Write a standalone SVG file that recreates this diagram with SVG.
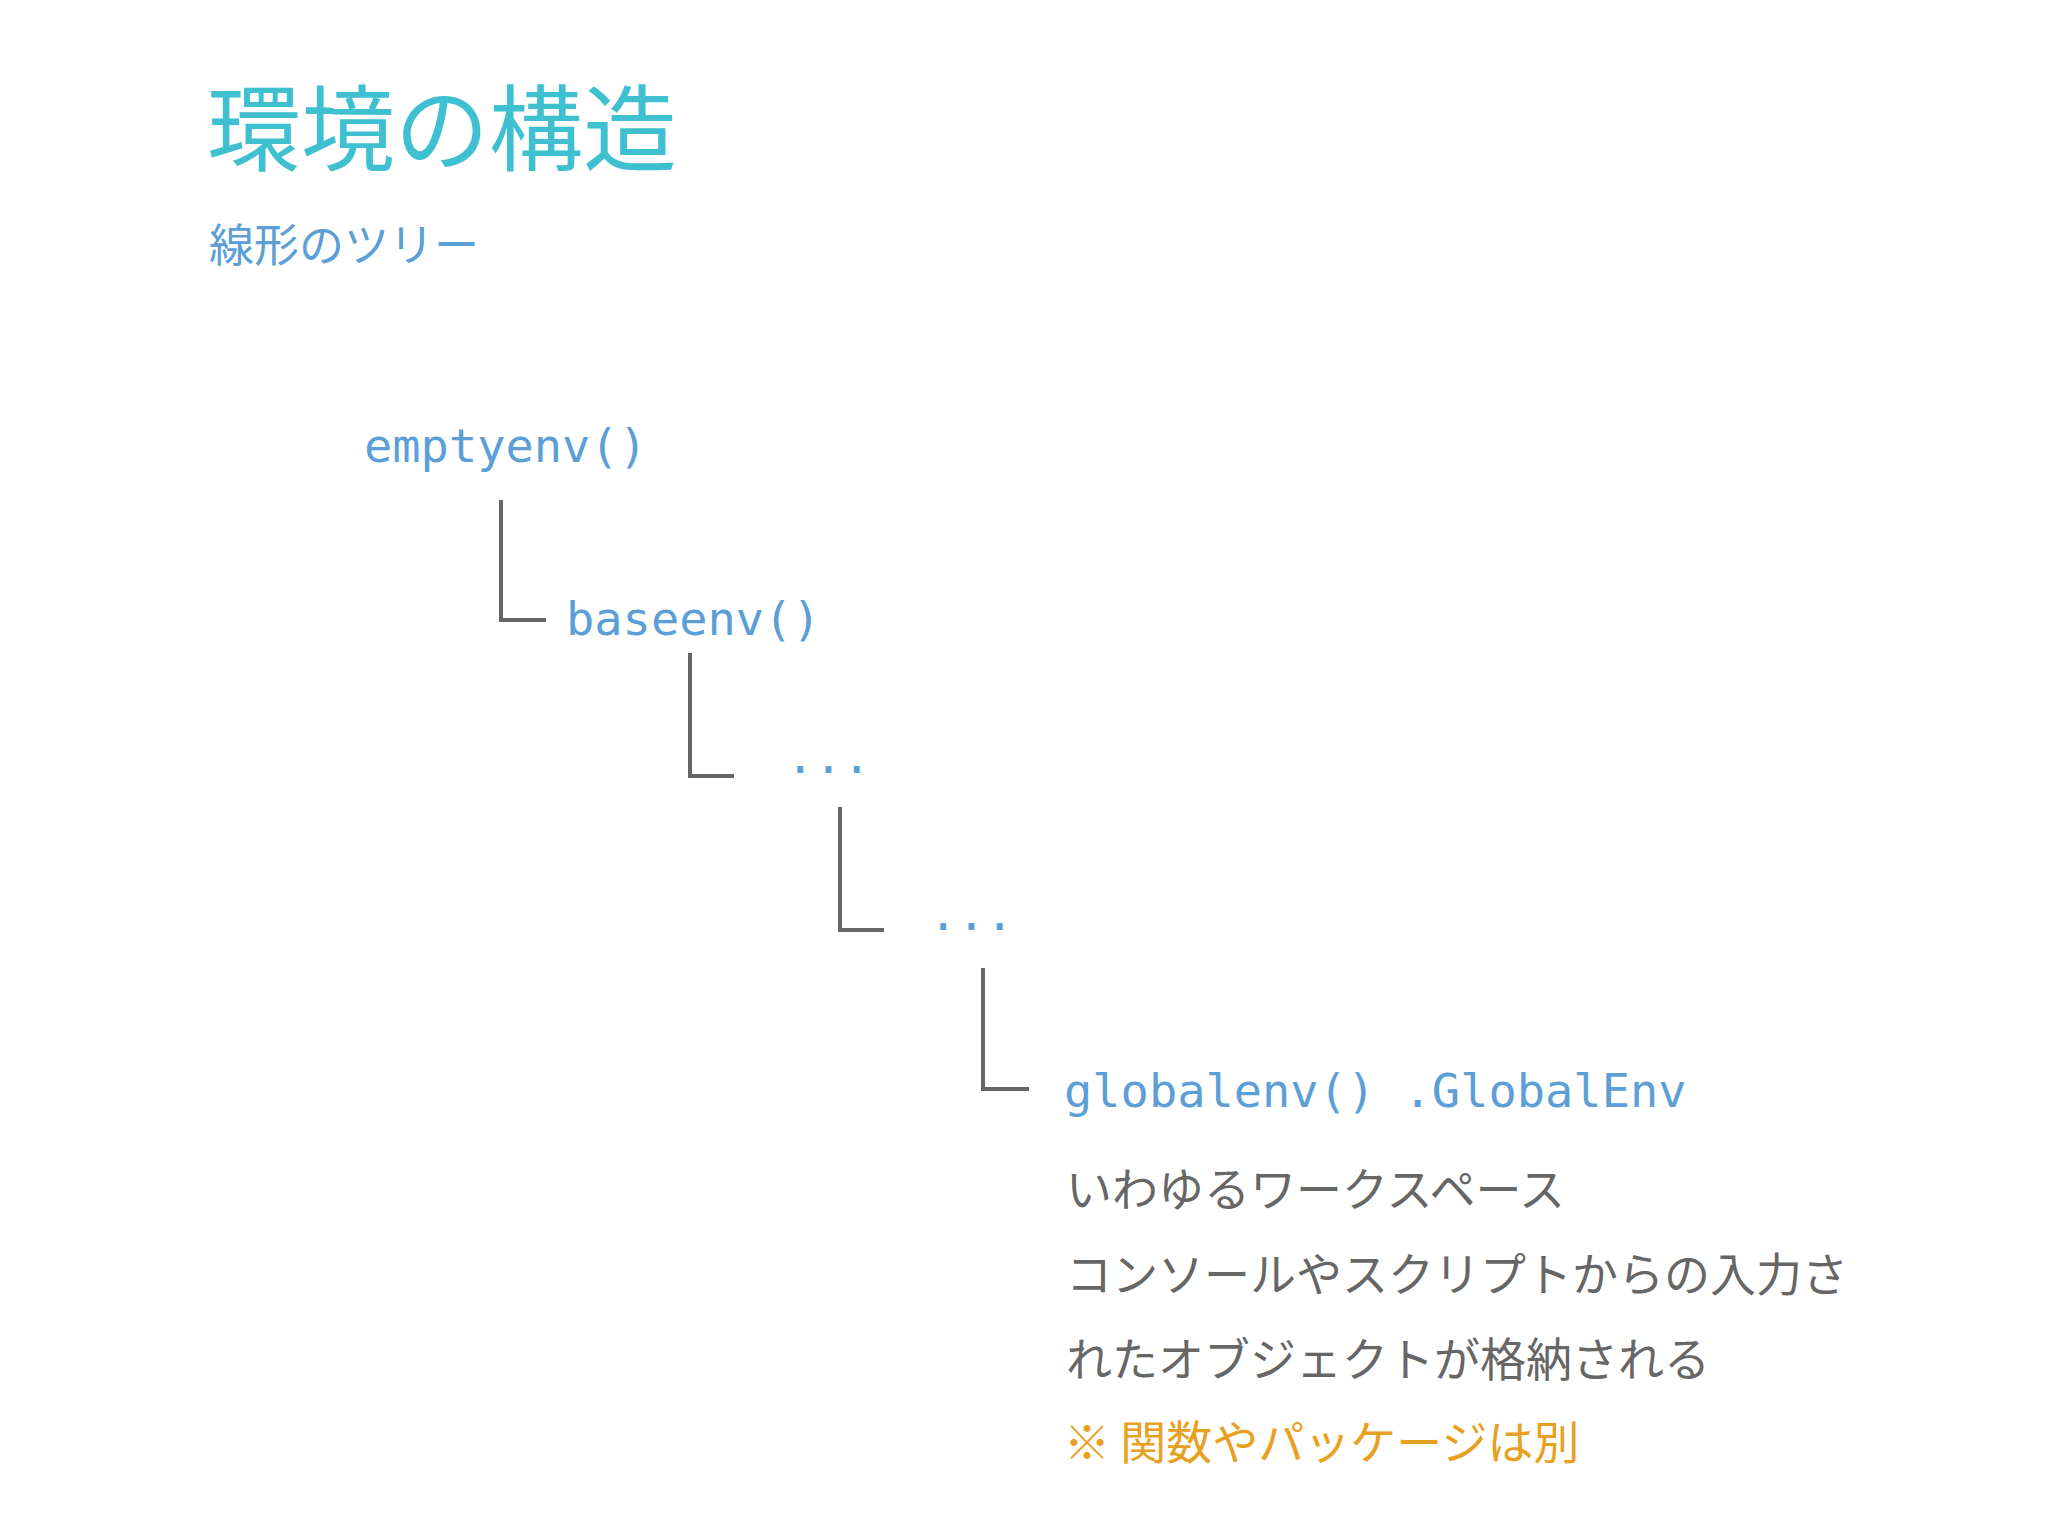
<svg xmlns="http://www.w3.org/2000/svg" width="2048" height="1536" viewBox="0 0 2048 1536">
<style>
.jp{font-family:"Noto Sans CJK JP","Noto Sans",sans-serif}
.code{font-family:"DejaVu Sans Mono","Liberation Mono",monospace;font-size:47px;fill:#5b9fd6}
.body{font-size:46px;fill:#666}
.ln{fill:none;stroke:#666;stroke-width:4}
</style>
<rect width="2048" height="1536" fill="#fff"/>
<g id="title"><text class="jp" x="207" y="164" font-size="94" fill="#3ec0d0">環境の構造</text></g>
<g id="subtitle"><text class="jp" x="209" y="262" font-size="45" fill="#5b9fd6">線形のツリー</text></g>
<g id="emptyenv"><text class="code" x="364" y="462">emptyenv()</text></g>
<g id="baseenv"><text class="code" x="566" y="635">baseenv()</text></g>
<g id="dots1"><text class="code" x="786" y="773">...</text></g>
<g id="dots2"><text class="code" x="929" y="930">...</text></g>
<g id="globalenv"><text class="code" x="1064" y="1107" xml:space="preserve">globalenv() .GlobalEnv</text></g>
<g id="desc">
<text class="jp body" x="1066" y="1206">いわゆるワークスペース</text>
<text class="jp body" x="1066" y="1291">コンソールやスクリプトからの入力さ</text>
<text class="jp body" x="1066" y="1376">れたオブジェクトが格納される</text>
<text class="jp" x="1064" y="1459" font-size="46" fill="#e8a020">※ 関数やパッケージは別</text>
</g>
<g id="connectors">
<path class="ln" d="M501 500V620H546"/>
<path class="ln" d="M690 653V776H734"/>
<path class="ln" d="M840 807V930H884"/>
<path class="ln" d="M983 968V1089H1029"/>
</g>
</svg>
